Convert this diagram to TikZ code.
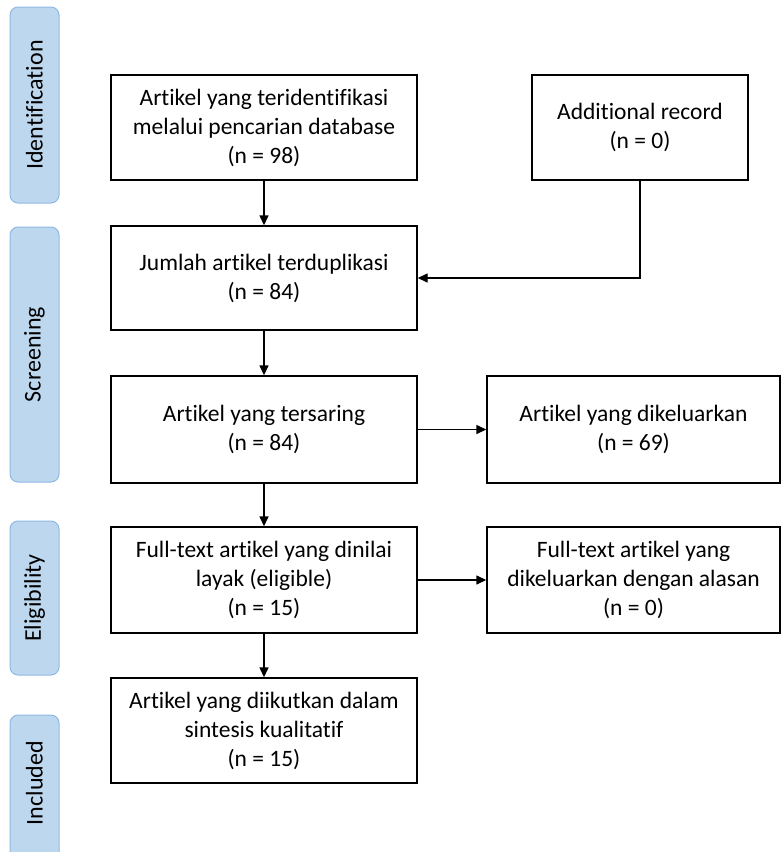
\documentclass[tikz,border=0pt]{standalone}
\usepackage{fontspec}
\setmainfont[Ligatures=NoCommon]{Carlito}
\usetikzlibrary{arrows.meta}
\definecolor{sidefill}{HTML}{BDD7EE}
\definecolor{sidedraw}{HTML}{8FB9E3}
\begin{document}
\begin{tikzpicture}[x=1pt,y=-1pt,
  box/.style={draw=black,line width=1.4pt,minimum width=306pt,align=center,font=\fontsize{23.5}{29}\selectfont,inner sep=0pt},
  side/.style={draw=sidedraw,fill=sidefill,line width=1pt,rounded corners=8pt,minimum width=49pt,inner sep=0pt},
  sidelab/.style={rotate=90,font=\fontsize{24}{28}\selectfont},
  arr/.style={-{Triangle[length=10pt,width=9pt]},line width=1.4pt}]
\useasboundingbox (0,0) rectangle (782,852);
% side bars
\node[side,minimum height=196pt] (s1) at (34.5,105) {};
\node[sidelab] (l1) at (s1.center) {Identification};
\node[side,minimum height=255pt] (s2) at (34.5,354.5) {};
\node[sidelab] (l2) at (s2.center) {Screening};
\node[side,minimum height=154pt] (s3) at (34.5,598) {};
\node[sidelab] (l3) at (s3.center) {Eligibility};
\node[side,minimum height=160pt] (s4) at (34.5,795) {};
\node[sidelab] (l4) at (34.5,783) {Included};
% boxes
\node[box,minimum height=105pt] (b1) at (264,127.5) {Artikel yang teridentifikasi\\melalui pencarian database\\(n = 98)};
\node[box,minimum width=216pt,minimum height=105pt] (add) at (640,127.5) {Additional record\\(n = 0)};
\node[box,minimum height=104pt] (b2) at (264,278) {Jumlah artikel terduplikasi\\(n = 84)};
\node[box,minimum height=107pt] (b3) at (264,429.5) {Artikel yang tersaring\\(n = 84)};
\node[box,minimum width=293pt,minimum height=107pt] (r3) at (633.5,429.5) {Artikel yang dikeluarkan\\(n = 69)};
\node[box,minimum height=106pt] (b4) at (264,580) {Full-text artikel yang dinilai\\layak (eligible)\\(n = 15)};
\node[box,minimum width=293pt,minimum height=106pt] (r4) at (633.5,580) {Full-text artikel yang\\dikeluarkan dengan alasan\\(n = 0)};
\node[box,minimum height=105pt] (b5) at (264,730.5) {Artikel yang diikutkan dalam\\sintesis kualitatif\\(n = 15)};
% connectors
\draw[arr] (b1) -- (b2);
\draw[arr] (add.south) |- (b2.east);
\draw[arr] (b2) -- (b3);
\draw[arr] (b3) -- (r3);
\draw[arr] (b3) -- (b4);
\draw[arr] (b4) -- (r4);
\draw[arr] (b4) -- (b5);
\end{tikzpicture}
\end{document}
